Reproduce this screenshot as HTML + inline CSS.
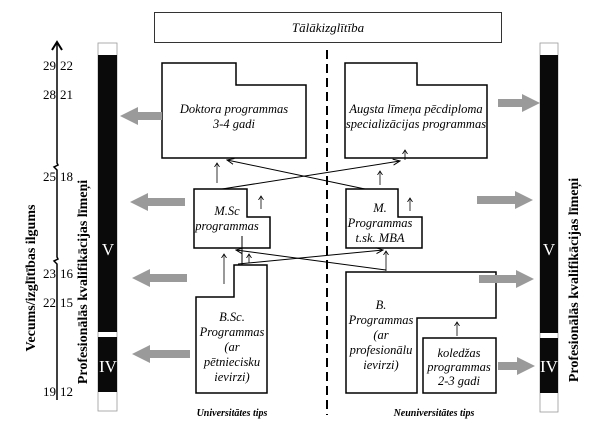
<!DOCTYPE html>
<html><head><meta charset="utf-8"><style>body{margin:0;background:#fff}svg{display:block}</style></head><body>
<svg width="600" height="433" viewBox="0 0 600 433" xmlns="http://www.w3.org/2000/svg" font-family="Liberation Serif, serif">
<defs>
<marker id="a" markerWidth="8" markerHeight="8" refX="7" refY="4" orient="auto" markerUnits="userSpaceOnUse"><path d="M0,1 L7,4 L0,7" fill="none" stroke="#000" stroke-width="1"/></marker>
<marker id="s" markerWidth="6" markerHeight="6" refX="4" refY="3" orient="auto" markerUnits="userSpaceOnUse"><path d="M0,0.5 L4,3 L0,5.5" fill="none" stroke="#000" stroke-width="0.8"/></marker>
</defs>
<rect x="154.5" y="12.5" width="347" height="30" fill="none" stroke="#333"/>
<text x="328" y="32" font-size="13" font-style="italic" text-anchor="middle">Tālākizglītība</text>
<path d="M57,400 V264 l-3,-3 4,-2 -1,-2 V170 l-3,-3 4,-2 -1,-2 V44" fill="none" stroke="#000" stroke-width="1.5"/>
<path d="M52,50 L57,42 L62,50" fill="none" stroke="#000" stroke-width="2"/>
<g font-size="13">
<text x="43" y="70">29</text><text x="60" y="70">22</text>
<text x="43" y="99">28</text><text x="60" y="99">21</text>
<text x="43" y="181">25</text><text x="60" y="181">18</text>
<text x="43" y="278">23</text><text x="60" y="278">16</text>
<text x="43" y="307">22</text><text x="60" y="307">15</text>
<text x="43" y="396">19</text><text x="60" y="396">12</text>
</g>
<text transform="translate(35,278) rotate(-90)" font-size="14" font-weight="bold" text-anchor="middle">Vecums/izglītības ilgums</text>
<text transform="translate(87,282) rotate(-90)" font-size="14" font-weight="bold" text-anchor="middle">Profesionālās kvalifikācijas līmeņi</text>
<text transform="translate(578,280) rotate(-90)" font-size="14" font-weight="bold" text-anchor="middle">Profesionālās kvalifikācijas līmeņi</text>
<g stroke="#999" stroke-width="0.8">
<rect x="98" y="43" width="19" height="368" fill="#fff"/>
<rect x="540" y="43" width="18" height="369" fill="#fff"/>
</g>
<rect x="98" y="55" width="19" height="277" fill="#0a0a0a"/>
<rect x="98" y="337" width="19" height="55" fill="#0a0a0a"/>
<rect x="540" y="55" width="18" height="278" fill="#0a0a0a"/>
<rect x="540" y="338" width="18" height="55" fill="#0a0a0a"/>
<g fill="#fff" font-size="17" text-anchor="middle">
<text x="108" y="255">V</text><text x="108" y="372">IV</text>
<text x="549" y="255">V</text><text x="549" y="372">IV</text>
</g>
<line x1="327" y1="50" x2="327" y2="415" stroke="#000" stroke-width="2" stroke-dasharray="9,5"/>
<g fill="none" stroke="#000" stroke-width="1.5">
<path d="M162,63 H236 V85 H306 V158 H162 Z"/>
<path d="M345,63 H417 V85 H487 V158 H345 Z"/>
<path d="M194,189 H247 V217 H270 V248 H194 Z"/>
<path d="M346,189 H398 V217 H422 V248 H346 Z"/>
<path d="M196,297 H234 V265 H267 V393 H196 Z"/>
<path d="M346,272 H496 V318 H417 V393 H346 Z"/>
<rect x="423" y="338" width="73" height="55"/>
</g>
<g font-size="12.5" font-style="italic" text-anchor="middle">
<text x="234" y="113">Doktora programmas</text><text x="234" y="128">3-4 gadi</text>
<text x="416" y="113">Augsta līmeņa pēcdiploma</text><text x="416" y="128">specializācijas programmas</text>
<text x="227" y="215">M.Sc</text><text x="227" y="230">programmas</text>
<text x="380" y="212">M.</text><text x="380" y="227">Programmas</text><text x="380" y="242">t.sk. MBA</text>
<text x="232" y="321">B.Sc.</text><text x="232" y="336">Programmas</text><text x="232" y="351">(ar</text><text x="232" y="366">pētniecisku</text><text x="232" y="381">ievirzi)</text>
<text x="381" y="309">B.</text><text x="381" y="324">Programmas</text><text x="381" y="339">(ar</text><text x="381" y="354">profesionālu</text><text x="381" y="369">ievirzi)</text>
<text x="459" y="357">koledžas</text><text x="459" y="371">programmas</text><text x="459" y="385">2-3 gadi</text>
</g>
<g font-size="10" font-style="italic" font-weight="bold" text-anchor="middle">
<text x="232" y="416">Universitātes tips</text><text x="434" y="416">Neuniversitātes tips</text>
</g>
<g stroke="#000" stroke-width="1" fill="none">
<line x1="222" y1="189" x2="400" y2="161" marker-end="url(#a)"/>
<line x1="365" y1="189" x2="227" y2="160" marker-end="url(#a)"/>
<line x1="238" y1="264" x2="383" y2="250" marker-end="url(#a)"/>
<line x1="386" y1="270" x2="236" y2="250" marker-end="url(#a)"/>
<line x1="242" y1="265" x2="242" y2="236"/>
</g>
<g stroke="#000" stroke-width="0.8" fill="none" marker-end="url(#s)">
<line x1="217" y1="183" x2="217" y2="163"/>
<line x1="261" y1="209" x2="261" y2="196"/>
<line x1="380" y1="185" x2="380" y2="171"/>
<line x1="410" y1="211" x2="410" y2="198"/>
<line x1="405" y1="160" x2="405" y2="150"/>
<line x1="224" y1="284" x2="224" y2="254"/>
<line x1="249" y1="263" x2="249" y2="254"/>
<line x1="386" y1="271" x2="386" y2="251"/>
<line x1="457" y1="336" x2="457" y2="322"/>
</g>
<g fill="#9a9a9a">
<path d="M162,112 H138 V107 L120,116 L138,125 V120 H162 Z"/>
<path d="M185,198 H148 V193 L130,202 L148,211 V206 H185 Z"/>
<path d="M187,274 H150 V269 L132,278 L150,287 V282 H187 Z"/>
<path d="M190,350 H150 V345 L132,354 L150,363 V358 H190 Z"/>
<path d="M498,99 H522 V94 L540,103 L522,112 V107 H498 Z"/>
<path d="M477,196 H515 V191 L533,200 L515,209 V204 H477 Z"/>
<path d="M479,275 H516 V270 L534,279 L516,288 V283 H479 Z"/>
<path d="M498,362 H517 V357 L535,366 L517,375 V370 H498 Z"/>
</g>
</svg>
</body></html>
